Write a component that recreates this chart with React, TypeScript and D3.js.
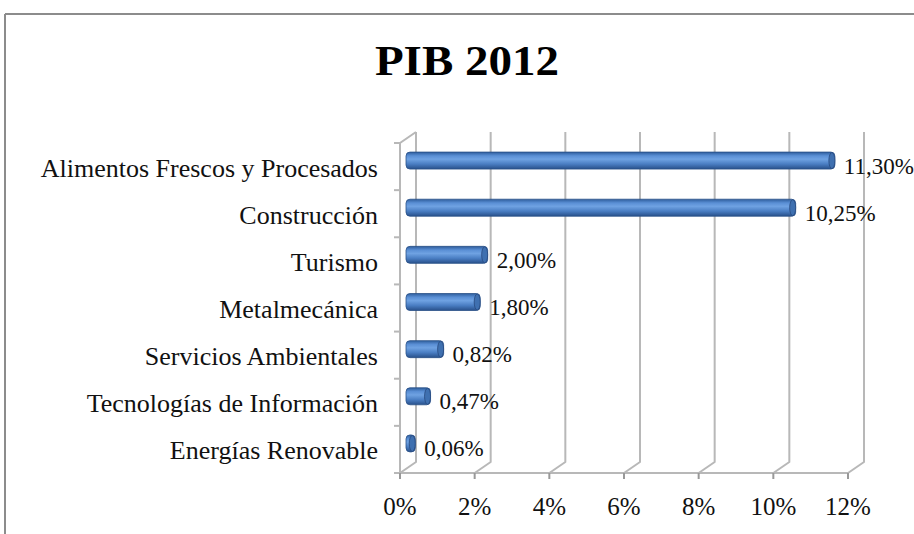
import React from 'react'
import * as d3 from 'd3'

const categories = [
  'Alimentos Frescos y Procesados',
  'Construcción',
  'Turismo',
  'Metalmecánica',
  'Servicios Ambientales',
  'Tecnologías de Información',
  'Energías Renovable',
]
const values = [11.3, 10.25, 2.0, 1.8, 0.82, 0.47, 0.06]
const tickValues = [0, 2, 4, 6, 8, 10, 12]

const W = 914, H = 534
const DX = 16, DY = -11 // depth of the 3d box
const BDX = 10, BDY = -6 // bars sit half way back
const BAR_H = 17
const serif = '"Liberation Serif", "Times New Roman", serif'

const fmt = (v: number) => d3.format('.2f')(v).replace('.', ',') + '%'

export default function App() {
  const x = d3.scaleLinear().domain([0, 12]).range([400, 848])
  const y = d3.scaleBand().domain(categories).range([143, 473])
  const bottom = 473, top = 143

  const grid = '#b8b8b8'

  return (
    <svg width={W} height={H} style={{ position: 'absolute', left: 0, top: 0, background: '#fff' }}>
      <defs>
        <linearGradient id="cyl" x1="0" y1="0" x2="0" y2="1">
          <stop offset="0" stopColor="#2e5d9c" />
          <stop offset="0.22" stopColor="#5a8fd5" />
          <stop offset="0.42" stopColor="#6fa2e2" />
          <stop offset="0.7" stopColor="#4a7ec3" />
          <stop offset="1" stopColor="#28508a" />
        </linearGradient>
      </defs>

      {/* outer frame */}
      <line x1={5} y1={14} x2={W} y2={14} stroke="#8c8c8c" strokeWidth={2} />
      <line x1={5} y1={14} x2={5} y2={H} stroke="#8c8c8c" strokeWidth={2} />

      {/* title */}
      <text x={467} y={75} textAnchor="middle" fontFamily={serif} fontWeight="bold"
        fontSize={42} transform="translate(467,0) scale(1.12,1) translate(-467,0)">
        PIB 2012
      </text>

      {/* back gridlines with slant down to front axis */}
      {tickValues.map(t => (
        <path key={'g' + t}
          d={`M${x(t) + DX},${top + DY} L${x(t) + DX},${bottom + DY} L${x(t)},${bottom}`}
          fill="none" stroke={grid} strokeWidth={2} strokeLinejoin="round" />
      ))}

      {/* left wall */}
      <path d={`M${x(0)},${bottom} L${x(0)},${top} L${x(0) + DX},${top + DY}`}
        fill="none" stroke={grid} strokeWidth={2} />
      {d3.range(categories.length + 1).map(i => {
        const yy = top + i * y.step()
        return <line key={'yt' + i} x1={x(0) - 6} x2={x(0)} y1={yy} y2={yy} stroke={grid} strokeWidth={2} />
      })}

      {/* floor front edge + ticks */}
      <line x1={x(0)} x2={x(12)} y1={bottom} y2={bottom} stroke={grid} strokeWidth={2} />
      {tickValues.map(t => (
        <line key={'xt' + t} x1={x(t)} x2={x(t)} y1={bottom} y2={bottom + 6} stroke="#999" strokeWidth={2} />
      ))}

      {/* tick labels */}
      {tickValues.map(t => (
        <text key={'tl' + t} x={x(t)} y={515} textAnchor="middle" fontFamily={serif} fontSize={25} fill="#111">
          {t + '%'}
        </text>
      ))}

      {/* category labels */}
      {categories.map(c => (
        <text key={'c' + c} x={378} y={(y(c) ?? 0) + y.bandwidth() / 2 + 10}
          textAnchor="end" fontFamily={serif} fontSize={26} fill="#111">
          {c}
        </text>
      ))}

      {/* bars */}
      {categories.map((c, i) => {
        const cy = (y(c) ?? 0) + y.bandwidth() / 2 + BDY
        const x0 = x(0) + BDX - 4
        const x1 = x(values[i]) + BDX + 3
        const xe = Math.max(x1, x0 + 8)
        return (
          <g key={'b' + c}>
            <rect x={x0} y={cy - BAR_H / 2} width={xe - x0} height={BAR_H}
              rx={4} fill="url(#cyl)" stroke="#2a5088" strokeWidth={0.8} />
            <ellipse cx={xe - 3} cy={cy} rx={3} ry={BAR_H / 2 - 0.5}
              fill="#3f70b0" stroke="#27497e" strokeWidth={0.8} />
            <text x={xe + 9} y={cy + 13} fontFamily={serif} fontSize={23} fill="#111">
              {fmt(values[i])}
            </text>
          </g>
        )
      })}
    </svg>
  )
}
